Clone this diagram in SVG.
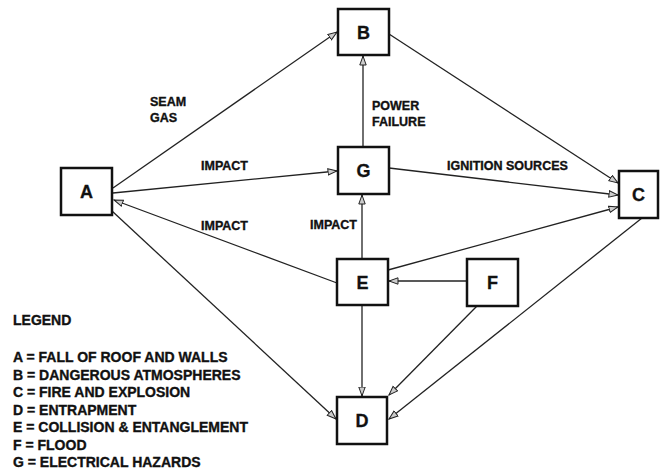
<svg xmlns="http://www.w3.org/2000/svg" width="661" height="472" viewBox="0 0 661 472">
<style>
  .box { fill: #fff; stroke: #111; stroke-width: 2.5; }
  .node { font-family: "Liberation Sans", Arial, sans-serif; font-weight: bold; font-size: 18px; fill: #111; stroke: #111; stroke-width: 0.3; text-anchor: middle; dominant-baseline: central; }
  .lbl { font-family: "Liberation Sans", Arial, sans-serif; font-weight: bold; font-size: 12.5px; fill: #111; stroke: #111; stroke-width: 0.35; }
  .leg { font-family: "Liberation Sans", Arial, sans-serif; font-weight: bold; font-size: 14px; fill: #111; stroke: #111; stroke-width: 0.35; }
  .edge { fill: none; stroke: #222; stroke-width: 1.3; marker-end: url(#ah); }
</style>
<defs>
  <marker id="ah" markerWidth="11" markerHeight="9" refX="9.5" refY="4" orient="auto" markerUnits="userSpaceOnUse">
    <path d="M0.5,0.8 L9.5,4 L0.5,7.2 Z" fill="#ccc" stroke="#222" stroke-width="1"/>
  </marker>
</defs>
<rect width="661" height="472" fill="#fff"/>
<g id="connectors">
  <path class="edge" d="M113,188 L337,32"/>
  <path class="edge" d="M113,193 L337,171"/>
  <path class="edge" d="M337,283 L114,200"/>
  <path class="edge" d="M112,211 L336,419"/>
  <path class="edge" d="M363,147 L363,56"/>
  <path class="edge" d="M389,34 L618,183"/>
  <path class="edge" d="M389,168 L618,195"/>
  <path class="edge" d="M388,270 L618,207"/>
  <path class="edge" d="M362,259 L362,195"/>
  <path class="edge" d="M467,281 L389,281"/>
  <path class="edge" d="M362,305 L362,396"/>
  <path class="edge" d="M477,306 L389,395"/>
  <path class="edge" d="M642,218 L389,419"/>
</g>
<g id="labels">
  <text class="lbl" x="150" y="106">SEAM</text>
  <text class="lbl" x="150" y="122">GAS</text>
  <text class="lbl" x="201" y="170">IMPACT</text>
  <text class="lbl" x="201" y="230">IMPACT</text>
  <text class="lbl" x="310" y="229">IMPACT</text>
  <text class="lbl" x="372" y="110">POWER</text>
  <text class="lbl" x="372" y="126">FAILURE</text>
  <text class="lbl" x="447" y="170">IGNITION SOURCES</text>
</g>
<g id="node-A"><rect class="box" x="61" y="168" width="51" height="47"/><text class="node" x="86.5" y="192">A</text></g>
<g id="node-B"><rect class="box" x="338" y="9" width="51" height="46"/><text class="node" x="363.5" y="32.5">B</text></g>
<g id="node-G"><rect class="box" x="338" y="147" width="51" height="47"/><text class="node" x="363.5" y="171">G</text></g>
<g id="node-C"><rect class="box" x="619" y="171" width="39" height="47"/><text class="node" x="638.5" y="195">C</text></g>
<g id="node-E"><rect class="box" x="337" y="259" width="51" height="46"/><text class="node" x="362.5" y="282.5">E</text></g>
<g id="node-F"><rect class="box" x="467" y="259" width="51" height="47"/><text class="node" x="492.5" y="283">F</text></g>
<g id="node-D"><rect class="box" x="337" y="397" width="50" height="47"/><text class="node" x="362" y="421">D</text></g>
<g id="legend">
  <text class="leg" x="13" y="325">LEGEND</text>
  <text class="leg" x="13" y="362">A = FALL OF ROOF AND WALLS</text>
  <text class="leg" x="13" y="379.5">B = DANGEROUS ATMOSPHERES</text>
  <text class="leg" x="13" y="397">C = FIRE AND EXPLOSION</text>
  <text class="leg" x="13" y="414.5">D = ENTRAPMENT</text>
  <text class="leg" x="13" y="432">E = COLLISION &amp; ENTANGLEMENT</text>
  <text class="leg" x="13" y="449.5">F = FLOOD</text>
  <text class="leg" x="13" y="467">G = ELECTRICAL HAZARDS</text>
</g>
</svg>
